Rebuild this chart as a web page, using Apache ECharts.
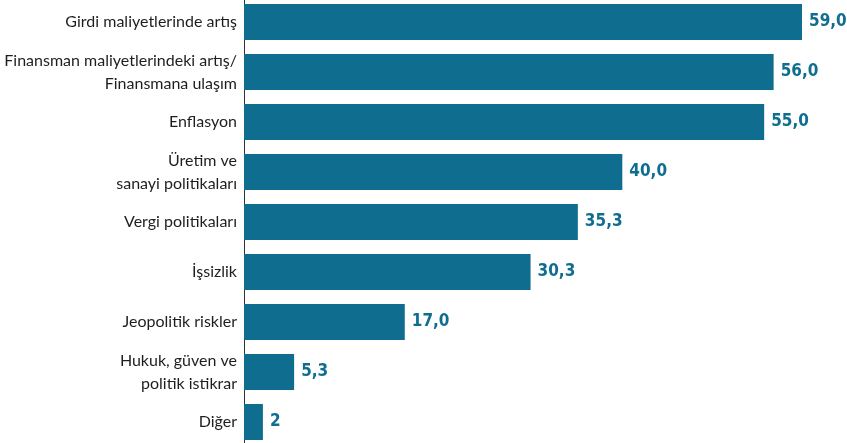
<!DOCTYPE html>
<html>
<head>
<meta charset="utf-8">
<script src="https://cdn.jsdelivr.net/npm/echarts@6/dist/echarts.min.js"></script>
<style>html,body{margin:0;padding:0;background:#fff;}#c{width:847px;height:443px;}</style>
</head>
<body>
<div id="c"></div>
<script>
var categories = [
  'Girdi maliyetlerinde artış',
  'Finansman maliyetlerindeki artış/\nFinansmana ulaşım',
  'Enflasyon',
  'Üretim ve\nsanayi politikaları',
  'Vergi politikaları',
  'İşsizlik',
  'Jeopolitik riskler',
  'Hukuk, güven ve\npolitik istikrar',
  'Diğer'
];
var values = [59.0, 56.0, 55.0, 40.0, 35.3, 30.3, 17.0, 5.3, 2];
var valueLabels = ['59,0', '56,0', '55,0', '40,0', '35,3', '30,3', '17,0', '5,3', '2'];

var chart = echarts.init(document.getElementById('c'));
chart.setOption({
  animation: false,
  backgroundColor: '#ffffff',
  grid: { left: 244, right: 45, top: -3, height: 450, containLabel: false, outerBoundsMode: 'none' },
  xAxis: { type: 'value', min: 0, max: 59, show: false },
  yAxis: {
    type: 'category',
    data: categories,
    inverse: true,
    axisLine: { show: true, lineStyle: { color: '#333333', width: 1 } },
    axisTick: { show: false },
    axisLabel: {
      color: '#1e1e1e',
      fontFamily: 'Lato',
      fontSize: 16,
      lineHeight: 23,
      margin: 7,
      align: 'right'
    }
  },
  series: [{
    type: 'bar',
    data: values,
    barCategoryGap: '28%',
    itemStyle: { color: '#0f6e8f' },
    label: {
      show: true,
      position: 'right',
      distance: 7,
      color: '#0f6e8f',
      fontFamily: 'DejaVu Sans Condensed',
      fontWeight: 'bold',
      fontSize: 17,
      formatter: function (p) { return valueLabels[p.dataIndex]; }
    }
  }]
});
</script>
</body>
</html>
